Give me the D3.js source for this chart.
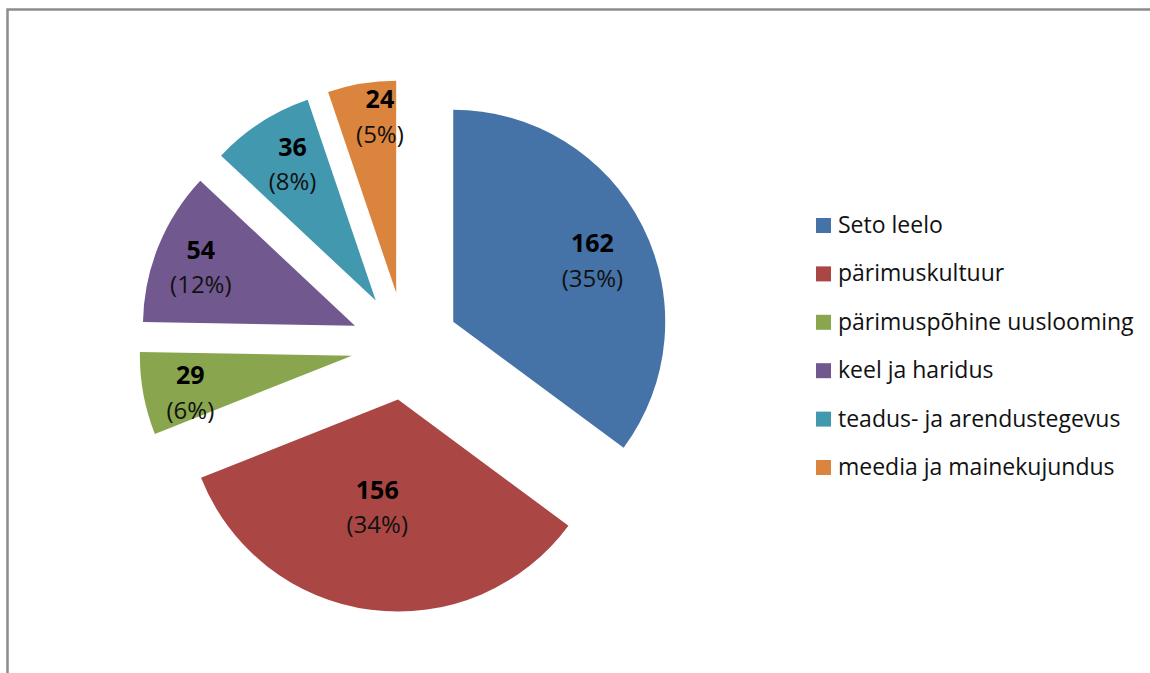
<!DOCTYPE html>
<html>
<head>
<meta charset="utf-8">
<script src="https://cdn.jsdelivr.net/npm/d3@7"></script>
<style>
  html, body { margin: 0; padding: 0; background: #fff; }
  svg { display: block; font-family: "Open Sans", sans-serif; }
</style>
</head>
<body>
<script>
const WIDTH = 1150,
      HEIGHT = 673,
      RADIUS = 212,
      EXPLODE = 54,
      CX = 405,
      CY = 346;

// data
const categories = ['Seto leelo', 'pärimuskultuur', 'pärimuspõhine uuslooming',
                    'keel ja haridus', 'teadus- ja arendustegevus', 'meedia ja mainekujundus'];
const values = [162, 156, 29, 54, 36, 24];
const colors = ['#4572A7', '#AA4643', '#89A54E', '#71588F', '#4198AF', '#DB843D'];

// where the label sits inside each slice: [fraction of radius, fraction of slice angle]
const labelPlace = [[0.72, 0.52], [0.51, 0.53], [0.78, 0.41], [0.78, 0.48], [0.76, 0.56], [0.84, 0.72]];

const total = d3.sum(values);

const svg = d3.select('body').append('svg')
    .attr('width', WIDTH).attr('height', HEIGHT);

// chart frame
svg.append('rect')
    .attr('x', 7.5).attr('y', 9.5)
    .attr('width', 1300).attr('height', 800)
    .attr('fill', 'none')
    .attr('stroke', '#8c8c8c')
    .attr('stroke-width', 2.5);

const pie = d3.pie().sort(null).value(d => d)(values);
const arc = d3.arc().innerRadius(0).outerRadius(RADIUS);

const g = svg.append('g').attr('transform', `translate(${CX},${CY})`);

const slices = g.selectAll('g.slice')
  .data(pie)
  .join('g')
    .attr('class', 'slice')
    .attr('transform', d => {
      var a = (d.startAngle + d.endAngle) / 2;
      return `translate(${EXPLODE * Math.sin(a)},${-EXPLODE * Math.cos(a)})`;
    });

slices.append('path')
    .attr('d', arc)
    .attr('fill', (d, i) => colors[i]);

const labels = slices.append('g')
    .attr('transform', (d, i) => {
      var p = labelPlace[i];
      var a = d.startAngle + (d.endAngle - d.startAngle) * p[1];
      var r = RADIUS * p[0];
      return `translate(${r * Math.sin(a)},${-r * Math.cos(a)})`;
    });

labels.append('text')
    .attr('text-anchor', 'middle')
    .attr('y', -17)
    .attr('dominant-baseline', 'central')
    .style('font-size', '25px')
    .style('font-weight', 'bold')
    .attr('fill', '#000')
    .text(d => d.data);

labels.append('text')
    .attr('text-anchor', 'middle')
    .attr('y', 18)
    .attr('dominant-baseline', 'central')
    .style('font-size', '24px')
    .attr('fill', '#111')
    .text(d => '(' + Math.round(d.data / total * 100) + '%)');

// legend
const legend = svg.append('g').attr('transform', 'translate(816,218)');
const y = d3.scalePoint().domain(categories).range([0, 242]);

const items = legend.selectAll('g')
  .data(categories)
  .join('g')
    .attr('transform', d => `translate(0,${y(d)})`);

items.append('rect')
    .attr('width', 15).attr('height', 15)
    .attr('fill', (d, i) => colors[i]);

items.append('text')
    .attr('x', 22).attr('y', 15)
    .style('font-size', '23px')
    .attr('fill', '#111')
    .text(d => d);
</script>
</body>
</html>
